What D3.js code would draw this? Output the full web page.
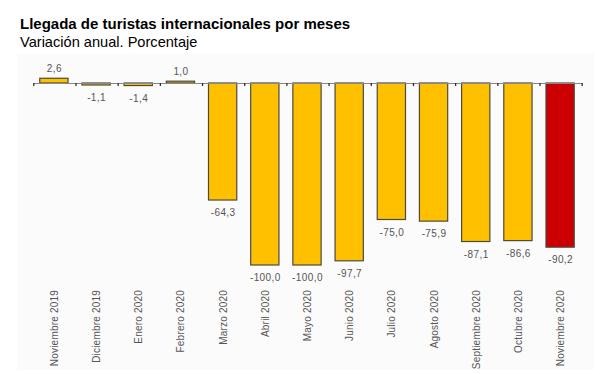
<!DOCTYPE html>
<html>
<head>
<meta charset="utf-8">
<script src="https://cdn.jsdelivr.net/npm/d3@7"></script>
<style>
  html, body { margin: 0; padding: 0; background: #fff; }
  svg { display: block; }
</style>
</head>
<body>
<svg id="chart" width="611" height="374"></svg>
<script>
const categories = ["Noviembre 2019", "Diciembre 2019", "Enero 2020", "Febrero 2020", "Marzo 2020", "Abril 2020", "Mayo 2020", "Junio 2020", "Julio 2020", "Agosto 2020", "Septiembre 2020", "Octubre 2020", "Noviembre 2020"];
const values = [2.6, -1.1, -1.4, 1.0, -64.3, -100.0, -100.0, -97.7, -75.0, -75.9, -87.1, -86.6, -90.2];
const highlighted = ["Noviembre 2020"];
const title = "Llegada de turistas internacionales por meses";
const subtitle = "Variación anual. Porcentaje";

const svg = d3.select("#chart");
const font = "Arial, 'Liberation Sans', sans-serif";

svg.append("rect").attr("x", 17).attr("y", 53).attr("width", 577).attr("height", 317).attr("fill", "#fbfbfb");

svg.append("text").attr("x", 20).attr("y", 29)
  .attr("font-family", font).attr("font-weight", "bold").attr("font-size", 15).attr("fill", "#000")
  .text(title);
svg.append("text").attr("x", 20).attr("y", 47)
  .attr("font-family", font).attr("font-size", 14.6).attr("fill", "#000")
  .text(subtitle);

const x = d3.scaleBand().domain(categories).range([33.3, 581.7]).paddingInner(0.33).paddingOuter(0.165);
const y = d3.scaleLinear().domain([-100, 0]).range([265, 83]);

const loc = d3.formatLocale({decimal: ",", thousands: ".", grouping: [3], currency: ["", "€"], minus: "-"});
const fmt = loc.format(".1f");

const data = categories.map((c, i) => ({c, v: values[i]}));

svg.append("g").selectAll("rect").data(data).join("rect")
  .attr("x", d => x(d.c) - 0.5)
  .attr("width", x.bandwidth())
  .attr("y", d => Math.min(y(d.v), y(0)))
  .attr("height", d => Math.abs(y(d.v) - y(0)))
  .attr("fill", d => highlighted.includes(d.c) ? "#cc0000" : "#ffc000")
  .attr("stroke", "#4a4a40").attr("stroke-width", 1.2);

// axis at zero with boundary ticks
const xb = d3.scaleLinear().domain([0, categories.length]).range([33.3, 581.7]);
const axisG = svg.append("g").attr("transform", `translate(0,${y(0)})`)
  .call(d3.axisBottom(xb).tickValues(d3.range(categories.length + 1)).tickFormat("").tickSizeInner(3).tickSizeOuter(0));
axisG.select(".domain").attr("stroke", "#888").attr("stroke-width", 1);
axisG.selectAll(".tick line").attr("stroke", "#222").attr("stroke-width", 1.2);

// value labels
svg.append("g").selectAll("text").data(data).join("text")
  .attr("x", d => x(d.c) + x.bandwidth() / 2)
  .attr("y", d => d.v >= 0 ? y(d.v) - 6 : y(d.v) + 16)
  .attr("text-anchor", "middle")
  .attr("font-family", font).attr("font-size", 10).attr("fill", "#555")
  .attr("letter-spacing", 0.4)
  .text(d => fmt(d.v));

// category labels
const catG = svg.append("g").attr("transform", "translate(0,290)")
  .call(d3.axisBottom(x).tickSize(0).tickPadding(0));
catG.select(".domain").remove();
catG.selectAll("text")
  .attr("font-family", font).attr("font-size", 10).attr("fill", "#555")
  .attr("letter-spacing", 0.2)
  .attr("transform", "rotate(-90)")
  .attr("text-anchor", "end")
  .attr("x", 0).attr("y", 0).attr("dy", "0.35em");
</script>
</body>
</html>
